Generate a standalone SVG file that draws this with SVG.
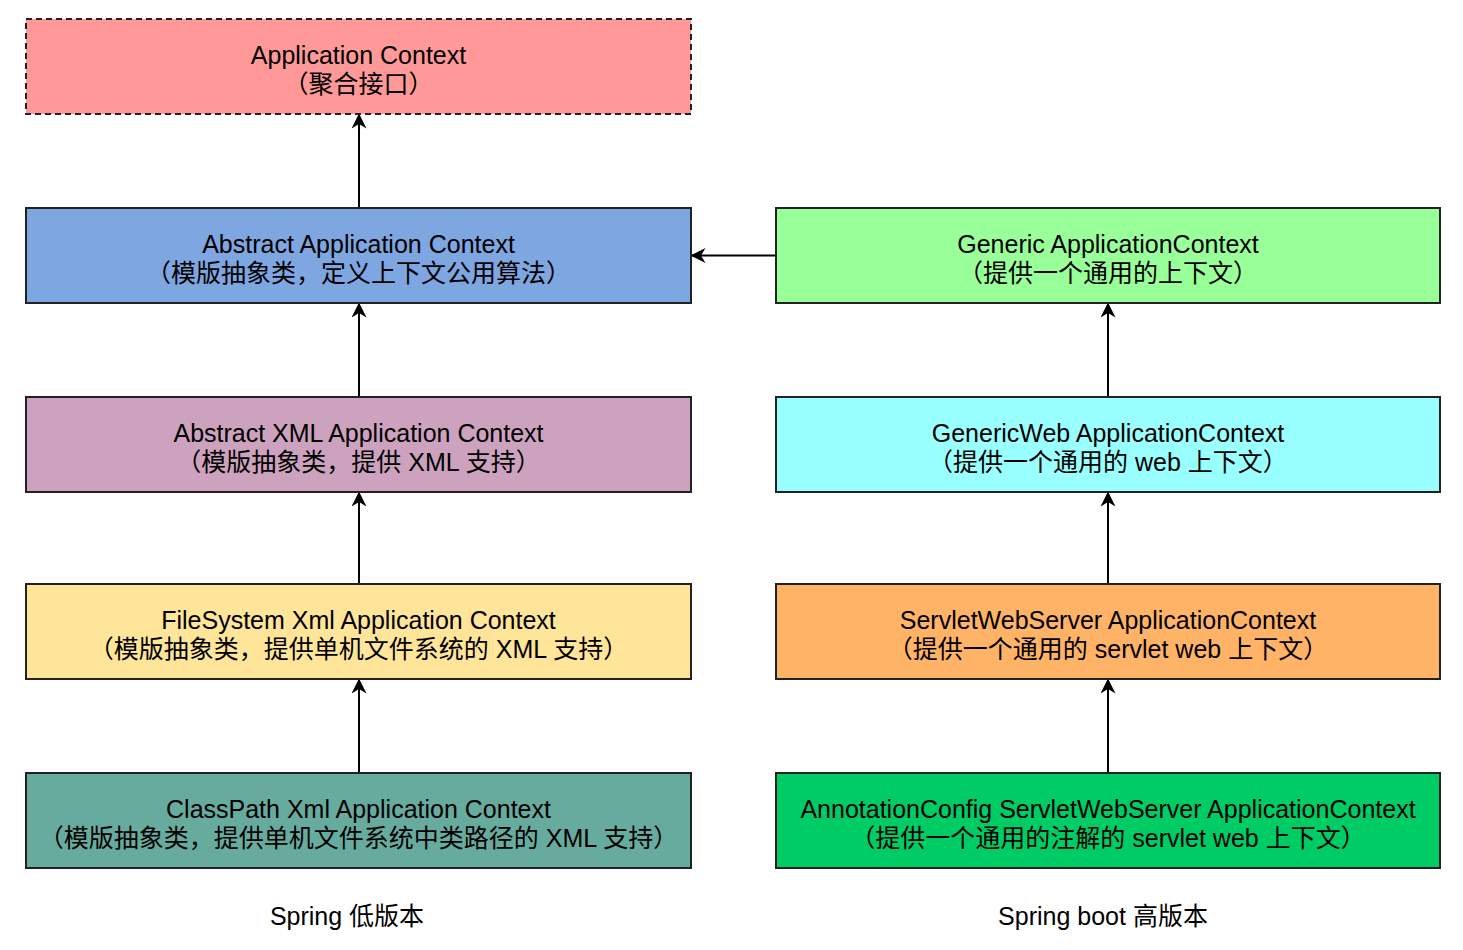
<svg xmlns="http://www.w3.org/2000/svg" width="1463" height="950" viewBox="0 0 1463 950">
<defs>
<style>
.b{stroke:#222;stroke-width:2}
.t{font-family:"Liberation Sans","Noto Sans CJK SC",sans-serif;font-size:25px;fill:#000;text-anchor:middle;dominant-baseline:central}
.c{stroke:#000;stroke-width:2;fill:none;marker-end:url(#a)}
</style>
<marker id="a" viewBox="0 0 10 10" refX="9" refY="5" markerWidth="15" markerHeight="15" markerUnits="userSpaceOnUse" orient="auto">
<path d="M0,0 L10,5 L0,10 L3,5 Z" fill="#000"/>
</marker>
</defs>
<rect width="1463" height="950" fill="#fff"/>
<g id="connectors">
<path class="c" d="M359,208 V115"/>
<path class="c" d="M359,397 V304"/>
<path class="c" d="M359,584 V493"/>
<path class="c" d="M359,773 V680"/>
<path class="c" d="M776,255.5 H692"/>
<path class="c" d="M1108,397 V304"/>
<path class="c" d="M1108,584 V493"/>
<path class="c" d="M1108,773 V680"/>
</g>
<g id="n1"><rect x="26" y="19" width="665" height="95" fill="#FF9999" class="b" stroke-dasharray="6 4"/>
<text class="t" x="358.5" y="55">Application Context</text><text class="t" x="358.5" y="84">（聚合接口）</text></g>
<g id="n2"><rect x="26" y="208" width="665" height="95" fill="#7EA6E0" class="b"/>
<text class="t" x="358.5" y="244">Abstract Application Context</text><text class="t" x="358.5" y="273">（模版抽象类，定义上下文公用算法）</text></g>
<g id="n3"><rect x="26" y="397" width="665" height="95" fill="#CDA2BE" class="b"/>
<text class="t" x="358.5" y="433">Abstract XML Application Context</text><text class="t" x="358.5" y="462">（模版抽象类，提供 XML 支持）</text></g>
<g id="n4"><rect x="26" y="584" width="665" height="95" fill="#FFE599" class="b"/>
<text class="t" x="358.5" y="620">FileSystem Xml Application Context</text><text class="t" x="358.5" y="649">（模版抽象类，提供单机文件系统的 XML 支持）</text></g>
<g id="n5"><rect x="26" y="773" width="665" height="95" fill="#67AB9F" class="b"/>
<text class="t" x="358.5" y="809">ClassPath Xml Application Context</text><text class="t" x="358.5" y="838">（模版抽象类，提供单机文件系统中类路径的 XML 支持）</text></g>
<g id="n6"><rect x="776" y="208" width="664" height="95" fill="#99FF99" class="b"/>
<text class="t" x="1108" y="244">Generic ApplicationContext</text><text class="t" x="1108" y="273">（提供一个通用的上下文）</text></g>
<g id="n7"><rect x="776" y="397" width="664" height="95" fill="#99FFFF" class="b"/>
<text class="t" x="1108" y="433">GenericWeb ApplicationContext</text><text class="t" x="1108" y="462">（提供一个通用的 web 上下文）</text></g>
<g id="n8"><rect x="776" y="584" width="664" height="95" fill="#FFB366" class="b"/>
<text class="t" x="1108" y="620">ServletWebServer ApplicationContext</text><text class="t" x="1108" y="649">（提供一个通用的 servlet web 上下文）</text></g>
<g id="n9"><rect x="776" y="773" width="664" height="95" fill="#00CC66" class="b"/>
<text class="t" x="1108" y="809">AnnotationConfig ServletWebServer ApplicationContext</text><text class="t" x="1108" y="838">（提供一个通用的注解的 servlet web 上下文）</text></g>
<g id="l1"><text class="t" x="347" y="916">Spring 低版本</text></g>
<g id="l2"><text class="t" x="1103" y="916">Spring boot 高版本</text></g>
</svg>
